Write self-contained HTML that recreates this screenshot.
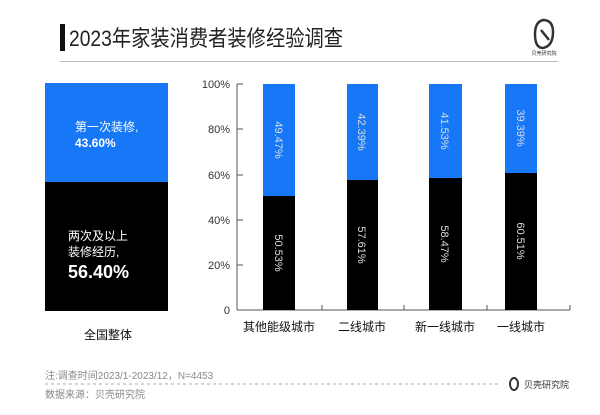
<!DOCTYPE html>
<html><head><meta charset="utf-8"><style>
body{margin:0;width:600px;height:410px;background:#fff;overflow:hidden;font-family:"Liberation Sans","Noto Sans CJK SC",sans-serif}
</style></head><body>
<svg width="600" height="410" xmlns="http://www.w3.org/2000/svg" font-family="Liberation Sans, Noto Sans CJK SC, sans-serif">
<rect x="60" y="24" width="5" height="27" fill="#111"/>
<text x="69" y="46" font-size="22" fill="#222" textLength="274" lengthAdjust="spacingAndGlyphs">2023年家装消费者装修经验调查</text>
<line x1="60" y1="61.5" x2="558" y2="61.5" stroke="#bbb" stroke-width="1"/>
<g fill="none" stroke="#333" stroke-width="2.5"><path d="M535 34 q0-12 8-14 q10 0 10 12 q0 14-10 16 q-8 0-8-14z"/><path d="M541 30 l8 10"/></g>
<text x="544" y="55" font-size="5" fill="#333" text-anchor="middle">贝壳研究院</text>
<rect x="45" y="83" width="123" height="99" fill="#1677f7"/>
<rect x="45" y="182" width="123" height="129" fill="#000"/>
<text x="75" y="131" font-size="12" fill="#fff">第一次装修,</text>
<text x="75" y="147" font-size="12" font-weight="bold" fill="#fff">43.60%</text>
<text x="68" y="240" font-size="12" fill="#fff">两次及以上</text>
<text x="68" y="256" font-size="12" fill="#fff">装修经历,</text>
<text x="68" y="278" font-size="18" font-weight="bold" fill="#fff">56.40%</text>
<text x="108" y="339" font-size="12" fill="#111" text-anchor="middle">全国整体</text>
<g stroke="#555" stroke-width="1"><line x1="237" y1="84" x2="237" y2="310"/><line x1="237" y1="310" x2="570" y2="310"/>
<line x1="237" y1="84" x2="243" y2="84"/><line x1="237" y1="129" x2="243" y2="129"/><line x1="237" y1="175" x2="243" y2="175"/><line x1="237" y1="220" x2="243" y2="220"/><line x1="237" y1="265" x2="243" y2="265"/>
<line x1="322" y1="305" x2="322" y2="310"/><line x1="404" y1="305" x2="404" y2="310"/><line x1="487" y1="305" x2="487" y2="310"/><line x1="570" y1="305" x2="570" y2="310"/></g>
<g font-size="11" fill="#333" text-anchor="end"><text x="230" y="88">100%</text><text x="230" y="133">80%</text><text x="230" y="179">60%</text><text x="230" y="224">40%</text><text x="230" y="269">20%</text><text x="230" y="314">0</text></g>
<g fill="#1677f7"><rect x="263" y="84" width="32" height="112"/><rect x="347" y="84" width="31" height="96"/><rect x="429" y="84" width="33" height="94"/><rect x="505" y="84" width="32" height="89"/></g>
<g fill="#000"><rect x="263" y="196" width="32" height="114"/><rect x="347" y="180" width="31" height="130"/><rect x="429" y="178" width="33" height="132"/><rect x="505" y="173" width="32" height="137"/></g>
<g font-size="11" fill="#ddd" text-anchor="middle">
<text transform="translate(279,140) rotate(90)" dy="4">49.47%</text>
<text transform="translate(279,253) rotate(90)" dy="4">50.53%</text>
<text transform="translate(362,132) rotate(90)" dy="4">42.39%</text>
<text transform="translate(362,245) rotate(90)" dy="4">57.61%</text>
<text transform="translate(445,131) rotate(90)" dy="4">41.53%</text>
<text transform="translate(445,244) rotate(90)" dy="4">58.47%</text>
<text transform="translate(521,128) rotate(90)" dy="4">39.39%</text>
<text transform="translate(521,241) rotate(90)" dy="4">60.51%</text>
</g>
<g font-size="12" fill="#111" text-anchor="middle"><text x="279" y="331">其他能级城市</text><text x="362" y="331">二线城市</text><text x="445" y="331">新一线城市</text><text x="521" y="331">一线城市</text></g>
<text x="45" y="379" font-size="10" fill="#888">注:调查时间2023/1-2023/12，N=4453</text>
<line x1="45" y1="384" x2="500" y2="384" stroke="#aaa" stroke-dasharray="3,3"/>
<text x="45" y="398" font-size="10" fill="#888">数据来源：贝壳研究院</text>
<ellipse cx="514" cy="384" rx="4" ry="6" fill="none" stroke="#333" stroke-width="2"/>
<text x="524" y="388" font-size="9" fill="#333">贝壳研究院</text>
</svg>
</body></html>
